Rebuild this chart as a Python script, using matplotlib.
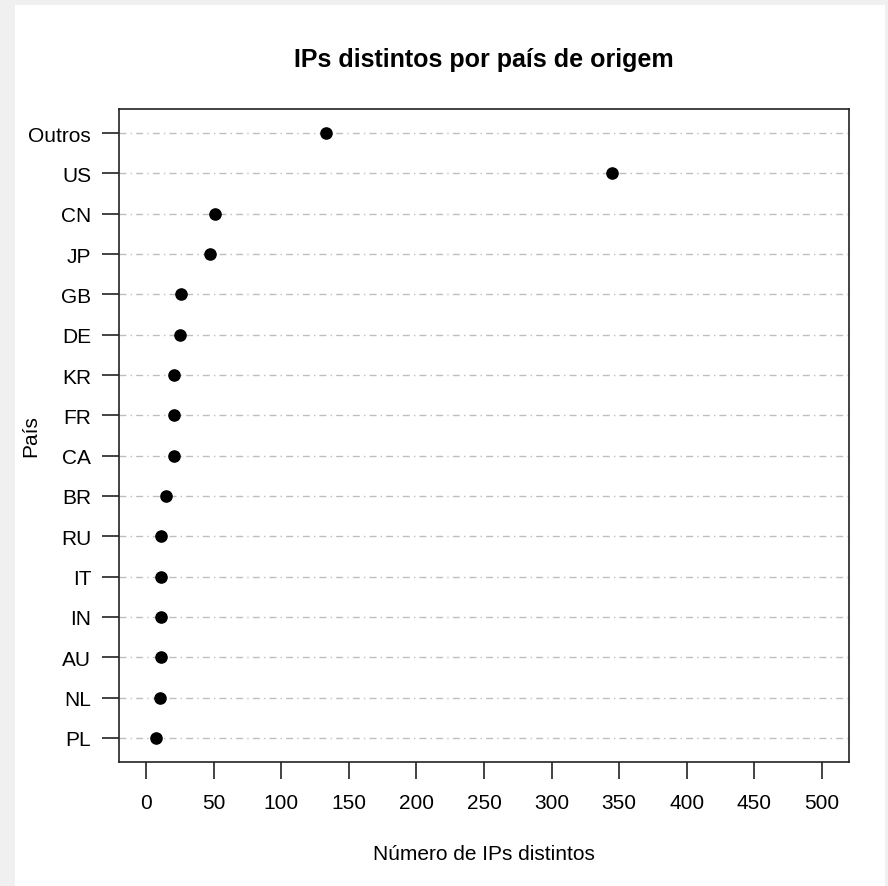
import matplotlib.pyplot as plt
from matplotlib.patches import Rectangle

plt.rcParams['font.family'] = ['Liberation Sans', 'DejaVu Sans']

# top row first, as in the picture
paises = ['Outros', 'US', 'CN', 'JP', 'GB', 'DE', 'KR', 'FR', 'CA',
          'BR', 'RU', 'IT', 'IN', 'AU', 'NL', 'PL']
ips = [133, 345, 51, 47, 26, 25, 21, 21, 21, 15, 11, 11, 11, 11, 10, 7]
xticks = list(range(0, 501, 50))

fig = plt.figure(figsize=(8.88, 8.87), dpi=100, facecolor='#f0f0f0')
# white page with a thin grey frame on top/left/right
fig.patches.append(Rectangle((15 / 888, 0), (885 - 15) / 888, 1 - 6 / 887,
                             transform=fig.transFigure, facecolor='white',
                             edgecolor='none', zorder=-10))

ax = fig.add_axes([119 / 888, 1 - 763 / 887, (849 - 119) / 888, (763 - 110) / 887])
ax.set_facecolor('none')

n = len(paises)
ypos = [n - i for i in range(n)]

for y in ypos:
    ax.axhline(y, color='#bebebe', lw=1, linestyle=(0, (5, 3, 1, 3)), zorder=1)

ax.scatter(ips, ypos, s=65, color='black', zorder=3)

ax.set_xlim(-20, 520)
ax.set_ylim(0.4, n + 0.6)
ax.set_xticks(xticks)
ax.set_xticklabels([str(t) for t in xticks])
ax.set_yticks(ypos)
ax.set_yticklabels(paises)

for s in ax.spines.values():
    s.set_linewidth(1.2)
    s.set_color('#222222')

ax.tick_params(axis='both', labelsize=15, length=12, width=1.2, color='#222222')
ax.tick_params(axis='x', pad=10)
ax.tick_params(axis='y', pad=8)

ax.set_title('IPs distintos por país de origem', fontsize=18, fontweight='bold', pad=31)
ax.set_xlabel('Número de IPs distintos', fontsize=15, labelpad=23)
ax.set_ylabel('País', fontsize=15)
ax.yaxis.set_label_coords(-0.108, 0.5)

fig.savefig('out.png', dpi=100, facecolor=fig.get_facecolor())
